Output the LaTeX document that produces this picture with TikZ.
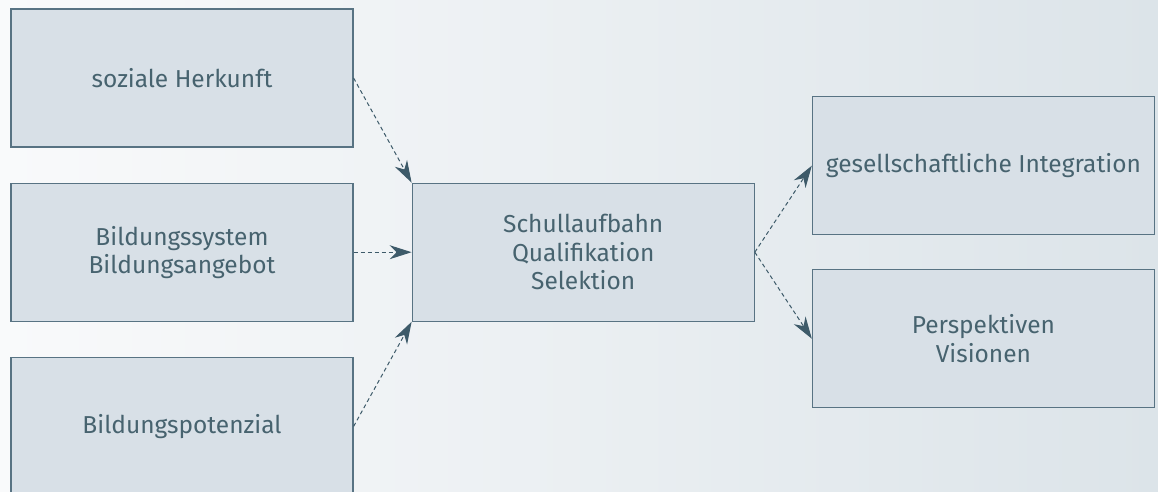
\documentclass[tikz,border=0pt]{standalone}
\usepackage{fontspec}
\setmainfont{Fira Sans}
\usepackage{xcolor}
\usepackage{tikz}
\usetikzlibrary{positioning}
\usetikzlibrary{arrows.meta}
\usetikzlibrary{calc}

\definecolor{boxfill}{HTML}{D8E0E7}
\definecolor{boxline}{HTML}{587383}
\definecolor{inktext}{HTML}{47636F}
\definecolor{arrowink}{HTML}{3D5A69}
\definecolor{bgleft}{HTML}{F9FAFB}
\definecolor{bgright}{HTML}{DCE4E9}

\begin{document}
\begin{tikzpicture}[
	block/.style={draw=boxline, line width=1.2pt, fill=boxfill, text=inktext,
		minimum width=342pt, minimum height=138pt, inner sep=0pt, align=center,
		font=\fontsize{24.5}{28.3}\selectfont},
	flow/.style={draw=arrowink, line width=1pt, dash pattern=on 4pt off 3pt,
		-{Stealth[length=22pt,width=14pt,inset=7pt]}},
	node distance=35pt
]
% background
\shade[left color=bgleft, right color=bgright] (0pt,0pt) rectangle (1158pt,-491pt);
\useasboundingbox (0pt,0pt) rectangle (1158pt,-491pt);

\node[block] (herkunft) at (182pt,-78pt) {soziale Herkunft};
\node[block, below=of herkunft] (system) {Bildungssystem\\Bildungsangebot};
\node[block, below=of system] (potenzial) {Bildungspotenzial};
\node[block, right=58pt of system] (schule) {Schullaufbahn\\Qualifikation\\Selektion};
\node[block, right=57pt of schule, yshift=86.5pt] (integration) {gesellschaftliche Integration};
\node[block, right=57pt of schule, yshift=-86.5pt] (perspektive) {Perspektiven\\Visionen};

\draw[flow] (herkunft.east) -- (schule.north west);
\draw[flow] (system.east) -- (schule.west);
\draw[flow] (potenzial.east) -- (schule.south west);
\draw[flow] (schule.east) -- (integration.west);
\draw[flow] (schule.east) -- (perspektive.west);
\end{tikzpicture}
\end{document}
